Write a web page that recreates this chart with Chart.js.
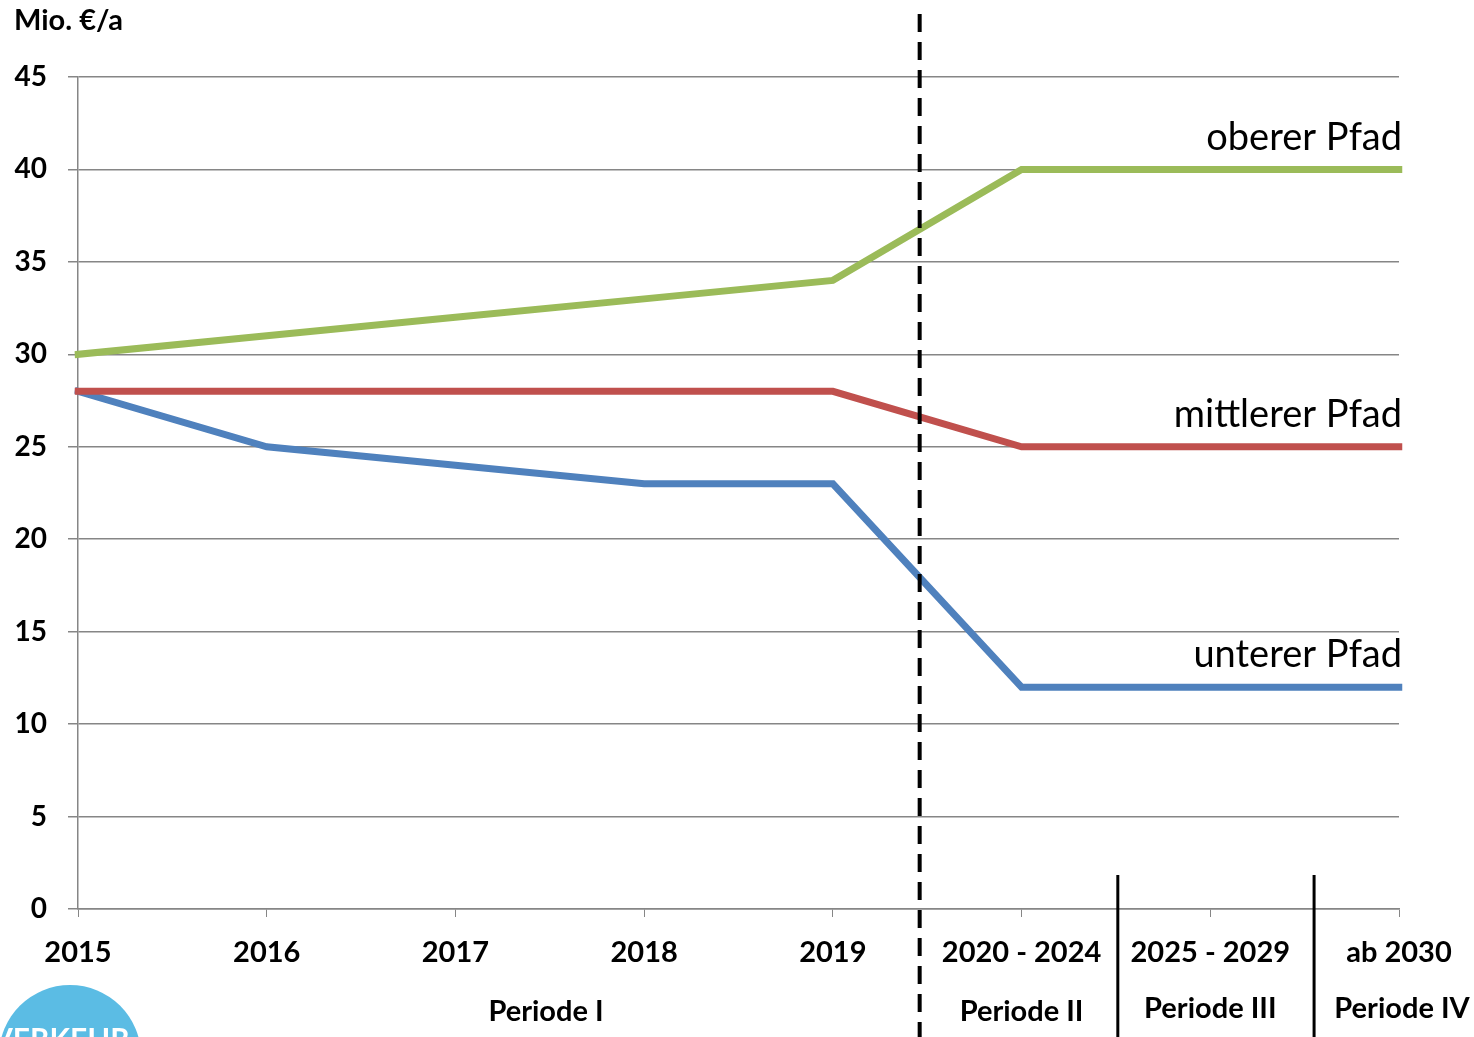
<!DOCTYPE html>
<html>
<head>
<meta charset="utf-8">
<script src="https://cdn.jsdelivr.net/npm/chart.js@4/dist/chart.umd.min.js"></script>
<style>
  html, body { margin: 0; padding: 0; background: #fff; }
  canvas { display: block; }
</style>
</head>
<body>
<canvas id="path-chart" width="1474" height="1037"></canvas>
<script>
const categories = ['2015', '2016', '2017', '2018', '2019', '2020 - 2024', '2025 - 2029', 'ab 2030'];
const upperPath = [30, 31, 32, 33, 34, 40, 40, 40];
const middlePath = [28, 28, 28, 28, 28, 25, 25, 25];
const lowerPath = [28, 25, 24, 23, 23, 12, 12, 12];
const seriesNames = ['oberer Pfad', 'mittlerer Pfad', 'unterer Pfad'];
const periodNames = ['Periode I', 'Periode II', 'Periode III', 'Periode IV'];
// category index where each period label is centred
const periodCenters = [2.48, 5, 6, 7];
// category positions of the period boundaries (first one dashed)
const periodBreaks = [4.46, 5.51, 6.55];

const FONT = 'Lato, "Liberation Sans", sans-serif';
const colors = ['#9BBB59', '#C0504D', '#4F81BD'];

// Extra drawing: unit title, series names, period boundaries and labels, logo
const overlayPlugin = {
  id: 'overlay',
  afterDraw(chart) {
    const ctx = chart.ctx;
    const x = chart.scales.x;
    const y = chart.scales.y;
    const area = chart.chartArea;
    ctx.save();

    // unit title
    ctx.fillStyle = '#000';
    ctx.font = 'bold 29px ' + FONT;
    ctx.textAlign = 'left';
    ctx.textBaseline = 'middle';
    ctx.fillText('Mio. €/a', 14, 21);

    // series names at the right end of each line
    ctx.font = '38px ' + FONT;
    ctx.textAlign = 'right';
    chart.data.datasets.forEach((ds, i) => {
      const last = ds.data[ds.data.length - 1];
      ctx.fillText(seriesNames[i], area.right + 3, y.getPixelForValue(last) - 32);
    });

    // period boundaries
    ctx.strokeStyle = '#000';
    ctx.lineWidth = 4;
    ctx.setLineDash([18, 10]);
    ctx.beginPath();
    const dx = x.getPixelForValue(periodBreaks[0]);
    ctx.moveTo(dx, 14);
    ctx.lineTo(dx, chart.height);
    ctx.stroke();
    ctx.setLineDash([]);
    ctx.lineWidth = 3;
    periodBreaks.slice(1).forEach(b => {
      const px = x.getPixelForValue(b);
      ctx.beginPath();
      ctx.moveTo(px, 875);
      ctx.lineTo(px, chart.height);
      ctx.stroke();
    });

    // period labels
    ctx.font = 'bold 29px ' + FONT;
    ctx.textAlign = 'center';
    periodNames.forEach((name, i) => {
      const px = x.getPixelForValue(periodCenters[i]);
      const py = i < 2 ? 1012 : 1009;
      ctx.fillText(name, i === 3 ? px + 3 : px, py);
    });

    // logo in the lower left corner
    ctx.fillStyle = '#5BBCE4';
    ctx.beginPath();
    ctx.arc(70, 1056, 71, 0, Math.PI * 2);
    ctx.fill();
    ctx.fillStyle = '#fff';
    ctx.font = 'bold 30px ' + FONT;
    ctx.textAlign = 'left';
    ctx.fillText('VERKEHR', -8, 1040);

    ctx.restore();
  }
};

const ctx = document.getElementById('path-chart');
new Chart(ctx, {
  type: 'line',
  data: {
    labels: categories,
    datasets: [
      { label: seriesNames[0], data: upperPath, borderColor: colors[0] },
      { label: seriesNames[1], data: middlePath, borderColor: colors[1] },
      { label: seriesNames[2], data: lowerPath, borderColor: colors[2] }
    ]
  },
  options: {
    responsive: false,
    animation: false,
    layout: { padding: { top: 77, right: 75, left: 0, bottom: 0 } },
    elements: {
      line: { borderWidth: 7, tension: 0, borderCapStyle: 'square', borderJoinStyle: 'miter' },
      point: { radius: 0 }
    },
    plugins: {
      legend: { display: false },
      tooltip: { enabled: false }
    },
    scales: {
      x: {
        offset: false,
        grid: { drawOnChartArea: false, drawTicks: true, tickLength: 8, color: '#868686' },
        border: { display: true, color: '#868686', width: 1.5 },
        ticks: {
          color: '#000',
          font: { family: FONT, size: 29, weight: 'bold' },
          padding: 18,
          maxRotation: 0,
          autoSkip: false
        },
        afterFit: s => { s.height = 128; }
      },
      y: {
        min: 0,
        max: 45,
        grid: { color: '#868686', lineWidth: 1.5, tickLength: 10 },
        border: { display: true, color: '#868686', width: 1.5 },
        ticks: {
          stepSize: 5,
          color: '#000',
          font: { family: FONT, size: 28, weight: 'bold' },
          padding: 21
        },
        afterFit: s => { s.width = 78; }
      }
    }
  },
  plugins: [overlayPlugin]
});
</script>
</body>
</html>
